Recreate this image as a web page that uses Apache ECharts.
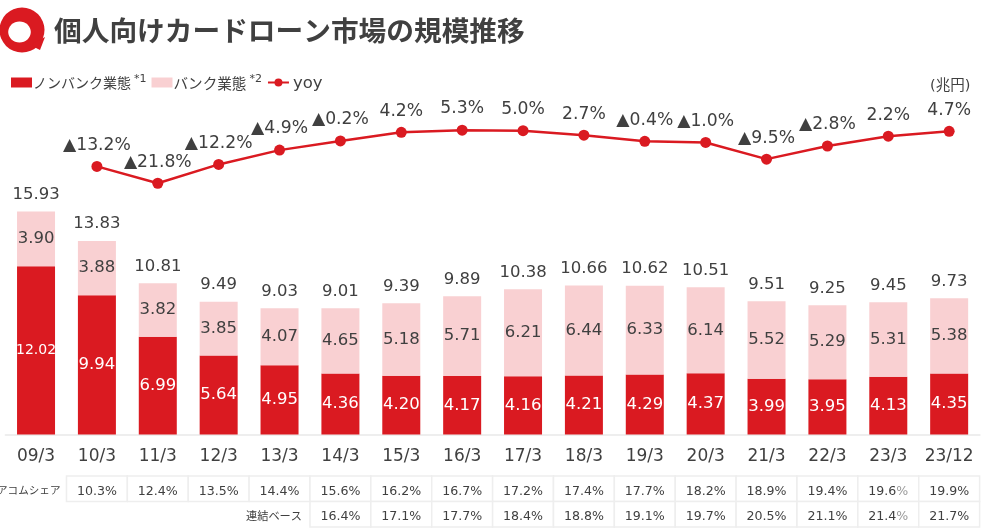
<!DOCTYPE html>
<html><head><meta charset="utf-8">
<style>html,body{margin:0;padding:0;background:#fff}#c{width:1001px;height:528px}</style>
<script src="https://cdn.jsdelivr.net/npm/echarts@6/dist/echarts.min.js"></script></head>
<body><div id="c"></div>
<script>
const categories=['09/3','10/3','11/3','12/3','13/3','14/3','15/3','16/3','17/3','18/3','19/3','20/3','21/3','22/3','23/3','23/12'];
const nonBank=[12.02,9.94,6.99,5.64,4.95,4.36,4.20,4.17,4.16,4.21,4.29,4.37,3.99,3.95,4.13,4.35];
const bank=[3.90,3.88,3.82,3.85,4.07,4.65,5.18,5.71,6.21,6.44,6.33,6.14,5.52,5.29,5.31,5.38];
const totals=[15.93,13.83,10.81,9.49,9.03,9.01,9.39,9.89,10.38,10.66,10.62,10.51,9.51,9.25,9.45,9.73];
const yoy=[null,-13.2,-21.8,-12.2,-4.9,-0.2,4.2,5.3,5.0,2.7,-0.4,-1.0,-9.5,-2.8,2.2,4.7];
const shareRow=[null,'10.3','12.4','13.5','14.4','15.6','16.2','16.7','17.2','17.4','17.7','18.2','18.9','19.4','19.6','19.9'];
const consolidatedRow=[null,null,null,null,null,'16.4','17.1','17.7','18.4','18.8','19.1','19.7','20.5','21.1','21.4','21.7'];
const rowNames=['連結ベース','アコムシェア'];
const RED='#DA1A21',PINK='#F9D0D2',TXT='#404040',FONT='"DejaVu Sans","Noto Sans CJK JP",sans-serif';
const cells=[];
shareRow.forEach((v,i)=>{if(v!==null)cells.push([i,1,v]);});
consolidatedRow.forEach((v,i)=>{if(v!==null)cells.push([i,0,v]);});
const chart=echarts.init(document.getElementById('c'),null,{renderer:'canvas'});
chart.setOption({
  animation:false,
  textStyle:{fontFamily:FONT},
  legend:{left:6,top:68.5,itemWidth:21,itemHeight:10,itemGap:5,selectedMode:false,
    data:[{name:'ノンバンク業態',icon:'rect'},{name:'バンク業態',icon:'rect'},{name:'yoy'}],
    formatter:n=>n==='yoy'?'{y|yoy}':(n==='バンク業態'?`{b|${n}}{t|*2}`:`{a|${n}}{s|*1}`),
    textStyle:{padding:[0,0,0,-4],rich:{
      a:{fontFamily:'"Noto Sans CJK JP"',fontSize:14,color:TXT,padding:[1,0,0,0]},
      b:{fontFamily:'"Noto Sans CJK JP"',fontSize:14.6,color:TXT,padding:[1,0,0,0]},
      y:{fontFamily:FONT,fontSize:16.5,color:TXT,padding:[2,0,0,3]},
      s:{fontFamily:FONT,fontSize:11,color:TXT,padding:[0,0,7,3]},
      t:{fontFamily:FONT,fontSize:11,color:TXT,padding:[0,3,7,3]}}}},
  grid:[{left:5.6,width:974,top:14.5,height:420},{left:5.6,width:974,top:476,height:51}],
  xAxis:[
    {type:'category',gridIndex:0,data:categories,
     axisLine:{lineStyle:{color:'#eeeeee',width:2}},axisTick:{show:false},
     axisLabel:{color:TXT,fontSize:17,margin:14,interval:0,fontFamily:FONT}},
    {type:'category',gridIndex:1,data:categories,show:false}
  ],
  yAxis:[
    {type:'value',gridIndex:0,min:0,max:30,show:false},
    {type:'value',gridIndex:0,min:-150,max:64.3,show:false},
    {type:'category',gridIndex:1,data:rowNames,show:false}
  ],
  series:[
    {name:'ノンバンク業態',type:'bar',stack:'a',barWidth:38,
     data:nonBank.map(v=>v>=10?{value:v,label:{fontSize:14}}:v),itemStyle:{color:RED},
     label:{show:true,position:'inside',color:'#fff',fontSize:16.5,fontFamily:FONT,formatter:p=>p.value.toFixed(2)}},
    {name:'バンク業態',type:'bar',stack:'a',barWidth:38,data:bank,itemStyle:{color:PINK},
     label:{show:true,position:'inside',color:TXT,fontSize:16.5,fontFamily:FONT,formatter:p=>p.value.toFixed(2)}},
    {name:'total',type:'line',data:totals,symbol:'circle',symbolSize:1,showSymbol:true,lineStyle:{opacity:0},
     itemStyle:{color:'rgba(0,0,0,0)'},silent:true,
     label:{show:true,position:'top',distance:8,color:TXT,fontSize:16.5,fontFamily:FONT,formatter:p=>p.value.toFixed(2)}},
    {name:'yoy',type:'line',yAxisIndex:1,data:yoy,symbol:'circle',symbolSize:11,connectNulls:false,
     lineStyle:{color:RED,width:2.5},itemStyle:{color:RED},
     label:{show:true,position:'top',distance:7,color:TXT,fontSize:17.2,fontFamily:FONT,
       formatter:p=>p.value<0?'▲'+Math.abs(p.value).toFixed(1)+'%':p.value.toFixed(1)+'%'}},
    {name:'table',type:'custom',xAxisIndex:1,yAxisIndex:2,data:cells,silent:true,
     renderItem:(params,api)=>{
       const c=api.coord([api.value(0),api.value(1)]),s=api.size([1,1]);
       const v=cells[params.dataIndex][2],light=api.value(0)===14;
       return {type:'group',children:[
         {type:'rect',shape:{x:c[0]-s[0]/2,y:c[1]-s[1]/2,width:s[0],height:s[1]},style:{fill:'#fff',stroke:'#eeeeee',lineWidth:1.5}},
         {type:'text',style:{x:c[0],y:c[1]+2.5,align:'center',verticalAlign:'middle',
           text:light?`{a|${v}}{b|%}`:`{a|${v}%}`,
           rich:{a:{fontFamily:FONT,fontSize:12.6,fill:TXT,color:TXT},b:{fontFamily:FONT,fontSize:12.6,color:'#999999',fill:'#999999'}}}}
       ]};
     }}
  ],
  graphic:[
    {type:'circle',shape:{cx:22,cy:30,r:22.5},style:{fill:RED}},
    {type:'polygon',shape:{points:[[32,44],[45,37],[40,50],[35,47.5]]},style:{fill:RED}},
    {type:'ellipse',shape:{cx:19.5,cy:32,rx:11.3,ry:10.5},style:{fill:'#fff'}},
    {type:'text',left:54,top:17,style:{text:'個人向けカードローン市場の規模推移',fontFamily:'"Noto Sans CJK JP"',fontWeight:'bold',fontSize:27.7,fill:TXT}},
    {type:'text',left:930,top:79,style:{text:'(兆円)',fontFamily:FONT,fontSize:14.5,fill:TXT}},
    {type:'text',left:-3,top:485,style:{text:rowNames[1],fontFamily:'"Noto Sans CJK JP"',fontSize:10.6,fill:TXT}},
    {type:'text',left:246,top:510,style:{text:rowNames[0],fontFamily:'"Noto Sans CJK JP"',fontSize:11.2,fill:TXT}}
  ]
});
</script></body></html>
